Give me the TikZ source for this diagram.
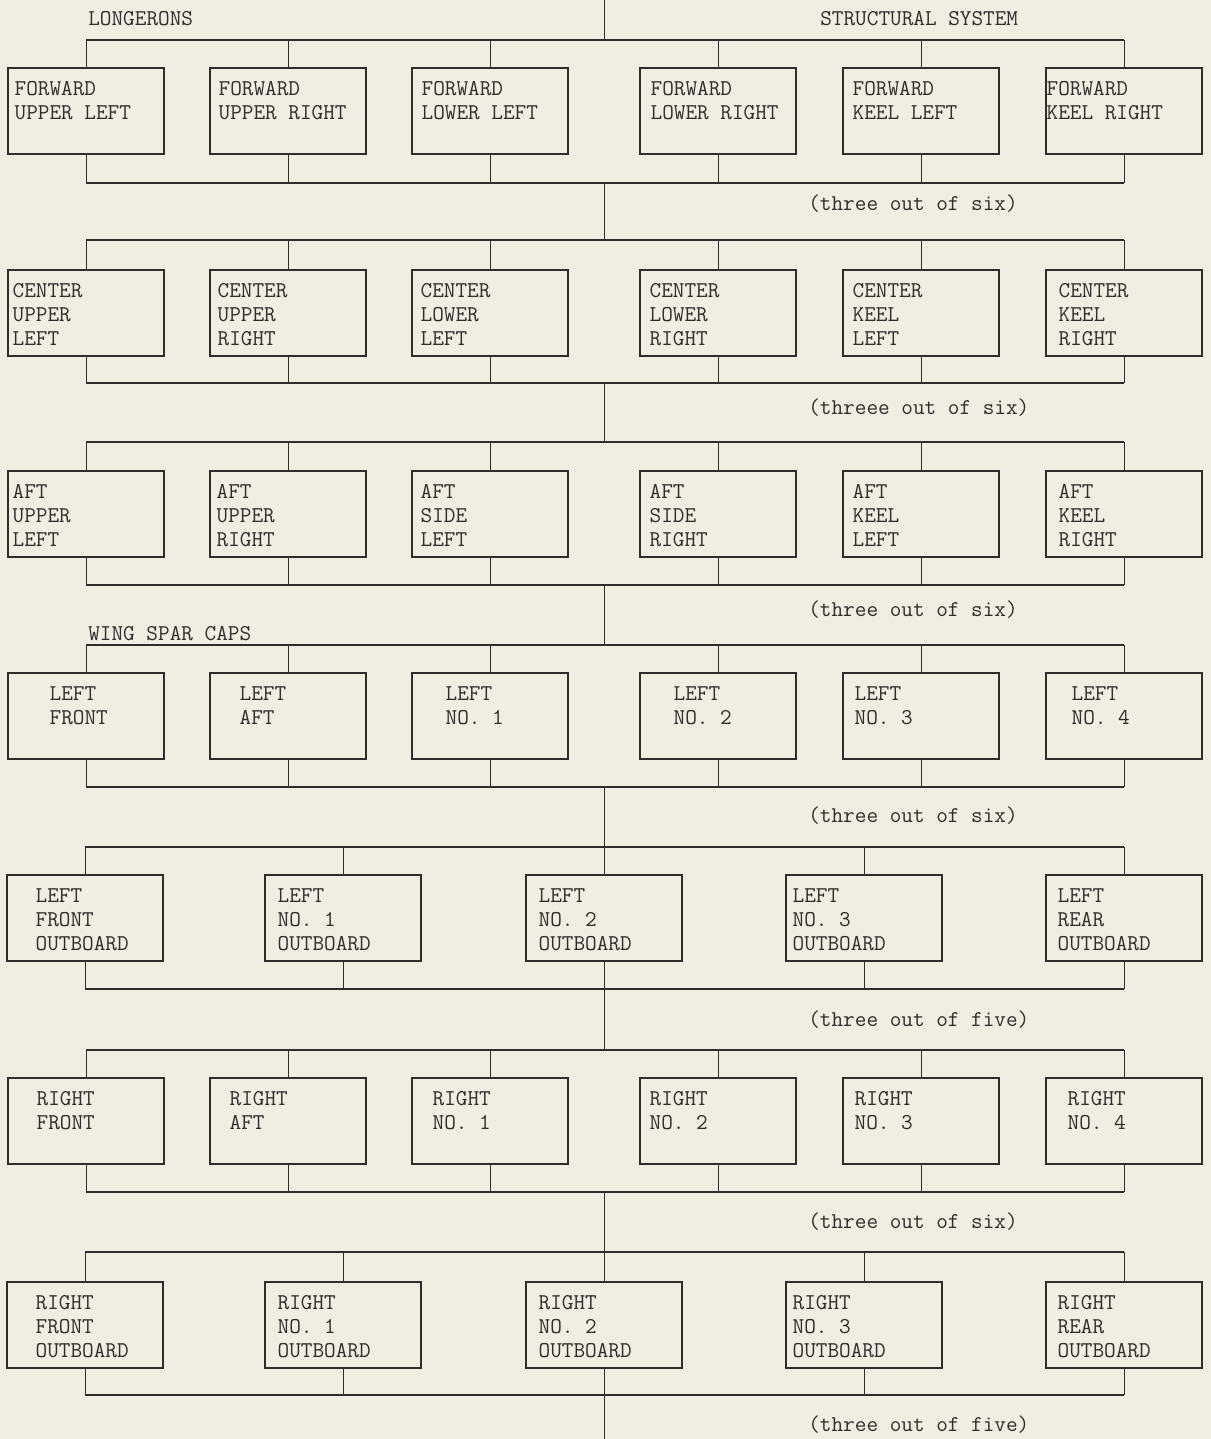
\documentclass[tikz,border=0pt]{standalone}
\usepackage{fontspec}
\usepackage{xcolor}
\usepackage{tikz}
\definecolor{paper}{HTML}{EEEEE2}
\definecolor{ink}{HTML}{2E2E2A}

\begin{document}
\begin{tikzpicture}[x=0.2mm, y=-0.2mm,
    unit/.style={draw=ink, line width=0.8pt, minimum width=31.2mm, minimum height=17.2mm, inner sep=0pt},
    tag/.style={anchor=north west, inner sep=0pt, align=left, text=ink,
      font=\ttfamily\fontsize{12.85}{13.6}\selectfont},
    note/.style={anchor=west, inner sep=0pt, text=ink, font=\ttfamily\fontsize{12.85}{13.6}\selectfont},
    wire/.style={draw=ink, line width=0.5pt},
    bus/.style={draw=ink, line width=0.9pt}
]
  \fill[paper] (0,0) rectangle (1211,1439);
  \useasboundingbox (0,0) rectangle (1211,1439);

  % Headings
  \node[tag] (longerons) at (88,11) {LONGERONS};
  \node[tag] (system) at (820,11) {STRUCTURAL SYSTEM};
  \node[tag] (spars) at (88,626) {WING SPAR CAPS};

  % Spine points
  \coordinate (top) at (604,0);
  \coordinate (bottom) at (604,1439);
  \coordinate (ta) at (604,40);   \coordinate (ua) at (604,183);
  \coordinate (tb) at (604,240);  \coordinate (ub) at (604,383);
  \coordinate (tc) at (604,442);  \coordinate (uc) at (604,585);
  \coordinate (td) at (604,645);  \coordinate (ud) at (604,787);
  \coordinate (te) at (604,847);  \coordinate (ue) at (604,989);
  \coordinate (tf) at (604,1050); \coordinate (uf) at (604,1192);
  \coordinate (tg) at (604,1252); \coordinate (ug) at (604,1395);

  % Forward longerons
  \foreach \xc/\dx/\txt [count=\i] in {86/7/FORWARD\\UPPER LEFT, 288/9/FORWARD\\UPPER RIGHT,
      490/10/FORWARD\\LOWER LEFT, 718/11/FORWARD\\LOWER RIGHT, 921/10/FORWARD\\KEEL LEFT,
      1124/1/FORWARD\\KEEL RIGHT} {
    \node[unit] (a\i) at (\xc,111) {};
    \node[tag] (a\i t) at ([shift={(\dx,14)}]a\i.north west) {\txt};
    \draw[wire] (a\i.north) -- (a\i.north |- ta);
    \draw[wire] (a\i.south) -- (a\i.south |- ua);
  }
  \draw[bus] (a1.north |- ta) -- (a6.north |- ta);
  \draw[bus] (a1.south |- ua) -- (a6.south |- ua);
  \node[note] (na) at (808,204) {(three out of six)};

  % Center longerons
  \foreach \xc/\dx/\txt [count=\i] in {86/5/CENTER\\UPPER\\LEFT, 288/8/CENTER\\UPPER\\RIGHT,
      490/9/CENTER\\LOWER\\LEFT, 718/10/CENTER\\LOWER\\RIGHT, 921/10/CENTER\\KEEL\\LEFT,
      1124/13/CENTER\\KEEL\\RIGHT} {
    \node[unit] (b\i) at (\xc,313) {};
    \node[tag] (b\i t) at ([shift={(\dx,14)}]b\i.north west) {\txt};
    \draw[wire] (b\i.north) -- (b\i.north |- tb);
    \draw[wire] (b\i.south) -- (b\i.south |- ub);
  }
  \draw[bus] (b1.north |- tb) -- (b6.north |- tb);
  \draw[bus] (b1.south |- ub) -- (b6.south |- ub);
  \node[note] (nb) at (808,408) {(threee out of six)};

  % Aft longerons
  \foreach \xc/\dx/\txt [count=\i] in {86/5/AFT\\UPPER\\LEFT, 288/7/AFT\\UPPER\\RIGHT,
      490/9/AFT\\SIDE\\LEFT, 718/10/AFT\\SIDE\\RIGHT, 921/10/AFT\\KEEL\\LEFT,
      1124/13/AFT\\KEEL\\RIGHT} {
    \node[unit] (c\i) at (\xc,514) {};
    \node[tag] (c\i t) at ([shift={(\dx,14)}]c\i.north west) {\txt};
    \draw[wire] (c\i.north) -- (c\i.north |- tc);
    \draw[wire] (c\i.south) -- (c\i.south |- uc);
  }
  \draw[bus] (c1.north |- tc) -- (c6.north |- tc);
  \draw[bus] (c1.south |- uc) -- (c6.south |- uc);
  \node[note] (nc) at (808,610) {(three out of six)};

  % Left wing spar caps
  \foreach \xc/\dx/\txt [count=\i] in {86/42/LEFT\\FRONT, 288/30/LEFT\\AFT,
      490/34/LEFT\\NO. 1, 718/34/LEFT\\NO. 2, 921/12/LEFT\\NO. 3,
      1124/26/LEFT\\NO. 4} {
    \node[unit] (d\i) at (\xc,716) {};
    \node[tag] (d\i t) at ([shift={(\dx,14)}]d\i.north west) {\txt};
    \draw[wire] (d\i.north) -- (d\i.north |- td);
    \draw[wire] (d\i.south) -- (d\i.south |- ud);
  }
  \draw[bus] (d1.north |- td) -- (d6.north |- td);
  \draw[bus] (d1.south |- ud) -- (d6.south |- ud);
  \node[note] (nd) at (808,816) {(three out of six)};

  % Left outboard caps
  \foreach \xc/\dx/\txt [count=\i] in {85/29/LEFT\\FRONT\\OUTBOARD, 343/13/LEFT\\NO. 1\\OUTBOARD,
      604/13/LEFT\\NO. 2\\OUTBOARD, 864/7/LEFT\\NO. 3\\OUTBOARD, 1124/12/LEFT\\REAR\\OUTBOARD} {
    \node[unit] (e\i) at (\xc,918) {};
    \node[tag] (e\i t) at ([shift={(\dx,14)}]e\i.north west) {\txt};
    \draw[wire] (e\i.north) -- (e\i.north |- te);
    \draw[wire] (e\i.south) -- (e\i.south |- ue);
  }
  \draw[bus] (e1.north |- te) -- (e5.north |- te);
  \draw[bus] (e1.south |- ue) -- (e5.south |- ue);
  \node[note] (ne) at (808,1020) {(three out of five)};

  % Right wing spar caps
  \foreach \xc/\dx/\txt [count=\i] in {86/29/RIGHT\\FRONT, 288/20/RIGHT\\AFT,
      490/21/RIGHT\\NO. 1, 718/10/RIGHT\\NO. 2, 921/12/RIGHT\\NO. 3,
      1124/22/RIGHT\\NO. 4} {
    \node[unit] (f\i) at (\xc,1121) {};
    \node[tag] (f\i t) at ([shift={(\dx,14)}]f\i.north west) {\txt};
    \draw[wire] (f\i.north) -- (f\i.north |- tf);
    \draw[wire] (f\i.south) -- (f\i.south |- uf);
  }
  \draw[bus] (f1.north |- tf) -- (f6.north |- tf);
  \draw[bus] (f1.south |- uf) -- (f6.south |- uf);
  \node[note] (nf) at (808,1222) {(three out of six)};

  % Right outboard caps
  \foreach \xc/\dx/\txt [count=\i] in {85/29/RIGHT\\FRONT\\OUTBOARD, 343/13/RIGHT\\NO. 1\\OUTBOARD,
      604/13/RIGHT\\NO. 2\\OUTBOARD, 864/7/RIGHT\\NO. 3\\OUTBOARD, 1124/12/RIGHT\\REAR\\OUTBOARD} {
    \node[unit] (g\i) at (\xc,1325) {};
    \node[tag] (g\i t) at ([shift={(\dx,14)}]g\i.north west) {\txt};
    \draw[wire] (g\i.north) -- (g\i.north |- tg);
    \draw[wire] (g\i.south) -- (g\i.south |- ug);
  }
  \draw[bus] (g1.north |- tg) -- (g5.north |- tg);
  \draw[bus] (g1.south |- ug) -- (g5.south |- ug);
  \node[note] (ng) at (808,1425) {(three out of five)};

  % Series spine
  \draw[wire] (top) -- (ta);
  \draw[wire] (ua) -- (tb);
  \draw[wire] (ub) -- (tc);
  \draw[wire] (uc) -- (td);
  \draw[wire] (ud) -- (te);
  \draw[wire] (ue) -- (tf);
  \draw[wire] (uf) -- (tg);
  \draw[wire] (ug) -- (bottom);

\end{tikzpicture}
\end{document}
